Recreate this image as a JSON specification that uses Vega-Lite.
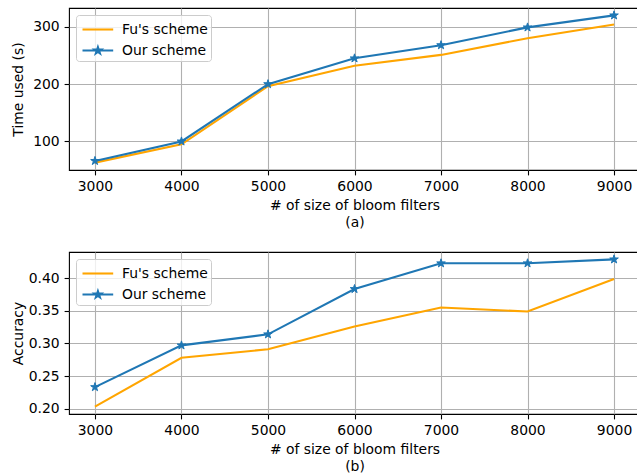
{
  "$schema": "https://vega.github.io/schema/vega-lite/v6.json",
  "autosize": {"type": "pad"},
  "padding": {"left": 10, "top": 7, "right": 0, "bottom": 5},
  "background": "white",
  "spacing": 82,
  "bounds": "flush",
  "config": {
    "font": "DejaVu Sans",
    "view": {"stroke": "#000000", "strokeWidth": 1.1},
    "axis": {
      "labelFont": "DejaVu Sans", "labelFontSize": 13.9, "labelColor": "#000000",
      "titleFont": "DejaVu Sans", "titleFontSize": 13.9, "titleFontWeight": "normal", "titleColor": "#000000",
      "domain": false, "tickColor": "#000000", "tickSize": 4.9, "tickWidth": 1.1,
      "labelPadding": 4.9, "grid": true, "gridColor": "#b0b0b0", "gridWidth": 1.1,
      "labelFlush": false, "labelOverlap": false
    },
    "legend": {
      "orient": "top-left", "offset": 7, "title": null, "padding": 3,
      "symbolSize": 400, "labelOffset": 20, "rowPadding": 2,
      "fillColor": "rgba(255,255,255,0.8)", "strokeColor": "#cccccc", "cornerRadius": 3,
      "labelFont": "DejaVu Sans", "labelFontSize": 13.9, "labelColor": "#000000", "symbolStrokeWidth": 2.08
    }
  },
  "datasets": {
    "time": [
      {"size": 3000, "scheme": "Fu's scheme", "value": 63},
      {"size": 4000, "scheme": "Fu's scheme", "value": 95},
      {"size": 5000, "scheme": "Fu's scheme", "value": 196.5},
      {"size": 6000, "scheme": "Fu's scheme", "value": 232},
      {"size": 7000, "scheme": "Fu's scheme", "value": 251},
      {"size": 8000, "scheme": "Fu's scheme", "value": 280},
      {"size": 9000, "scheme": "Fu's scheme", "value": 304},
      {"size": 3000, "scheme": "Our scheme", "value": 66},
      {"size": 4000, "scheme": "Our scheme", "value": 100},
      {"size": 5000, "scheme": "Our scheme", "value": 200},
      {"size": 6000, "scheme": "Our scheme", "value": 245},
      {"size": 7000, "scheme": "Our scheme", "value": 268},
      {"size": 8000, "scheme": "Our scheme", "value": 299},
      {"size": 9000, "scheme": "Our scheme", "value": 320}
    ],
    "acc": [
      {"size": 3000, "scheme": "Fu's scheme", "value": 0.203},
      {"size": 4000, "scheme": "Fu's scheme", "value": 0.278},
      {"size": 5000, "scheme": "Fu's scheme", "value": 0.291},
      {"size": 6000, "scheme": "Fu's scheme", "value": 0.326},
      {"size": 7000, "scheme": "Fu's scheme", "value": 0.355},
      {"size": 8000, "scheme": "Fu's scheme", "value": 0.349},
      {"size": 9000, "scheme": "Fu's scheme", "value": 0.399},
      {"size": 3000, "scheme": "Our scheme", "value": 0.233},
      {"size": 4000, "scheme": "Our scheme", "value": 0.297},
      {"size": 5000, "scheme": "Our scheme", "value": 0.314},
      {"size": 6000, "scheme": "Our scheme", "value": 0.3835},
      {"size": 7000, "scheme": "Our scheme", "value": 0.423},
      {"size": 8000, "scheme": "Our scheme", "value": 0.423},
      {"size": 9000, "scheme": "Our scheme", "value": 0.429}
    ]
  },
  "resolve": {"scale": {"color": "independent"}, "legend": {"color": "independent"}},
  "vconcat": [
    {
      "width": 571, "height": 162,
      "data": {"name": "time"},
      "layer": [
        {
          "mark": {"type": "line", "strokeWidth": 2.08},
          "encoding": {
            "x": {"field": "size", "type": "quantitative", "scale": {"domain": [2700, 9300], "nice": false, "zero": false},
              "axis": {"values": [3000, 4000, 5000, 6000, 7000, 8000, 9000], "format": "d", "title": ["# of size of bloom filters", "(a)"], "titlePadding": 5, "titleLineHeight": 16.5}},
            "y": {"field": "value", "type": "quantitative", "scale": {"domain": [50.15, 332.85], "nice": false, "zero": false},
              "axis": {"values": [100, 200, 300], "title": "Time used (s)", "titlePadding": 7}},
            "color": {"field": "scheme", "type": "nominal",
              "scale": {"domain": ["Fu's scheme", "Our scheme"], "range": ["#ffa500", "#1f77b4"]},
              "legend": {
                "encode": {"symbols": {"update": {
                  "shape": {"signal": "datum.value === 'Our scheme' ? 'M-0.8,0H2.27M0.74,-0.34L0.816,-0.105L1.063,-0.105L0.863,0.040L0.94,0.275L0.74,0.13L0.54,0.275L0.617,0.040L0.417,-0.105L0.664,-0.105Z' : 'M-0.8,0H2.27'"},
                  "fill": {"signal": "datum.value === 'Our scheme' ? '#1f77b4' : 'transparent'"},
                  "stroke": {"signal": "datum.value === 'Our scheme' ? '#1f77b4' : '#ffa500'"},
                  "strokeWidth": {"value": 2.08},
                  "opacity": {"value": 1}
                }}}
              }}
          }
        },
        {
          "transform": [{"filter": "datum.scheme === 'Our scheme'"}],
          "mark": {"type": "point", "filled": true, "size": 81, "strokeWidth": 1, "opacity": 1,
            "shape": "M0,-1L0.225,-0.309L0.951,-0.309L0.363,0.118L0.588,0.809L0,0.382L-0.588,0.809L-0.363,0.118L-0.951,-0.309L-0.225,-0.309Z",
            "color": "#1f77b4", "stroke": "#1f77b4"},
          "encoding": {
            "x": {"field": "size", "type": "quantitative"},
            "y": {"field": "value", "type": "quantitative"}
          }
        }
      ]
    },
    {
      "width": 571, "height": 162,
      "data": {"name": "acc"},
      "layer": [
        {
          "mark": {"type": "line", "strokeWidth": 2.08},
          "encoding": {
            "x": {"field": "size", "type": "quantitative", "scale": {"domain": [2700, 9300], "nice": false, "zero": false},
              "axis": {"values": [3000, 4000, 5000, 6000, 7000, 8000, 9000], "format": "d", "title": ["# of size of bloom filters", "(b)"], "titlePadding": 5, "titleLineHeight": 16.5}},
            "y": {"field": "value", "type": "quantitative", "scale": {"domain": [0.1917, 0.4403], "nice": false, "zero": false},
              "axis": {"values": [0.2, 0.25, 0.3, 0.35, 0.4], "format": ".2f", "title": "Accuracy", "titlePadding": 3}},
            "color": {"field": "scheme", "type": "nominal",
              "scale": {"domain": ["Fu's scheme", "Our scheme"], "range": ["#ffa500", "#1f77b4"]},
              "legend": {
                "encode": {"symbols": {"update": {
                  "shape": {"signal": "datum.value === 'Our scheme' ? 'M-0.8,0H2.27M0.74,-0.34L0.816,-0.105L1.063,-0.105L0.863,0.040L0.94,0.275L0.74,0.13L0.54,0.275L0.617,0.040L0.417,-0.105L0.664,-0.105Z' : 'M-0.8,0H2.27'"},
                  "fill": {"signal": "datum.value === 'Our scheme' ? '#1f77b4' : 'transparent'"},
                  "stroke": {"signal": "datum.value === 'Our scheme' ? '#1f77b4' : '#ffa500'"},
                  "strokeWidth": {"value": 2.08},
                  "opacity": {"value": 1}
                }}}
              }}
          }
        },
        {
          "transform": [{"filter": "datum.scheme === 'Our scheme'"}],
          "mark": {"type": "point", "filled": true, "size": 81, "strokeWidth": 1, "opacity": 1,
            "shape": "M0,-1L0.225,-0.309L0.951,-0.309L0.363,0.118L0.588,0.809L0,0.382L-0.588,0.809L-0.363,0.118L-0.951,-0.309L-0.225,-0.309Z",
            "color": "#1f77b4", "stroke": "#1f77b4"},
          "encoding": {
            "x": {"field": "size", "type": "quantitative"},
            "y": {"field": "value", "type": "quantitative"}
          }
        }
      ]
    }
  ]
}
